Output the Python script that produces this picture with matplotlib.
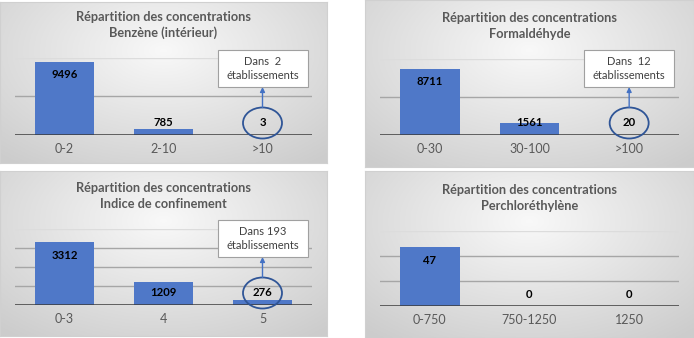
import numpy as np
import matplotlib
matplotlib.use('Agg')
import matplotlib.pyplot as plt
from matplotlib.patches import Ellipse, Rectangle
from matplotlib.transforms import ScaledTranslation

plt.rcParams['font.family'] = ['Lato', 'DejaVu Sans']

# Data
titles = ['Répartition des concentrations\nBenzène (intérieur)',
          'Répartition des concentrations\nFormaldéhyde',
          'Répartition des concentrations\nIndice de confinement',
          'Répartition des concentrations\nPerchloréthylène']
cats_benzene = ['0-2', '2-10', '>10']
vals_benzene = [9496, 785, 3]
cats_formal = ['0-30', '30-100', '>100']
vals_formal = [8711, 1561, 20]
cats_confin = ['0-3', '4', '5']
vals_confin = [3312, 1209, 276]
cats_perchlo = ['0-750', '750-1250', '1250']
vals_perchlo = [47, 0, 0]
callouts = ['Dans  2\nétablissements', 'Dans  12\nétablissements',
            'Dans 193\nétablissements', None]
axis_max = [10000, 10000, 4000, 60]
axis_step = [5000, 5000, 1000, 20]

W, H, DPI = 694, 338, 100
fig = plt.figure(figsize=(W / DPI, H / DPI), dpi=DPI)
fig.patch.set_facecolor('white')


def rect(x0, y0, x1, y1):
    return [x0 / W, 1 - y1 / H, (x1 - x0) / W, (y1 - y0) / H]


# panel layout in pixels: background box, plot box, title centre y
layout = [
    ((0, 2, 327, 163), (15, 58, 312, 135), 25),
    ((365, 0, 694, 167), (380, 59, 679, 135), 26),
    ((0, 171, 327, 336), (15, 229, 312, 305), 196),
    ((365, 171, 694, 338), (380, 231, 679, 306), 198),
]
all_cats = [cats_benzene, cats_formal, cats_confin, cats_perchlo]
all_vals = [vals_benzene, vals_formal, vals_confin, vals_perchlo]

# radial gradient for backgrounds
gx, gy = np.meshgrid(np.linspace(0, 1, 200), np.linspace(0, 1, 100))
r = np.sqrt(((gx - 0.5) / 0.75) ** 2 + ((gy - 0.3) / 0.9) ** 2)
r = np.clip(r, 0, 1)
light, dark = np.array([0.975, 0.975, 0.975]), np.array([0.80, 0.80, 0.80])
grad = light[None, None, :] * (1 - r[..., None]) + dark[None, None, :] * r[..., None]

for k in range(4):
    bg, pb, ty = layout[k]
    axb = fig.add_axes(rect(*bg))
    axb.imshow(grad, aspect='auto', extent=[0, 1, 1, 0])
    axb.set_xticks([])
    axb.set_yticks([])
    for s in axb.spines.values():
        s.set_color('#d0d0d0')
        s.set_linewidth(0.8)

    ax = fig.add_axes(rect(*pb))
    ax.set_facecolor('none')
    cats, vals = all_cats[k], all_vals[k]
    x = np.arange(len(cats))
    ymax, step = axis_max[k], axis_step[k]
    for g in np.arange(step, ymax + step / 2, step):
        top = g >= ymax
        ax.axhline(g, color='#dcdcdc' if top else '#a6a6a6', lw=1.0, zorder=1)
    ax.bar(x, vals, width=0.6, color='#4f78c8', zorder=2)
    ax.axhline(0, color='#3a3a3a', lw=1.8, zorder=3)
    ax.set_xlim(-0.5, len(cats) - 0.5)
    ax.set_ylim(0, ymax)
    ax.set_yticks([])
    ax.set_xticks(x)
    ax.set_xticklabels(cats, color='#595959', fontsize=9)
    ax.tick_params(axis='x', length=0, pad=6)
    for s in ax.spines.values():
        s.set_visible(False)

    plot_h = pb[3] - pb[1]
    for i, v in enumerate(vals):
        h_px = v / ymax * plot_h
        dy = max(-13, 12 - h_px)
        base = fig.dpi_scale_trans + ScaledTranslation(i, v, ax.transData)
        ax.text(0, dy / DPI, str(v), transform=base, ha='center', va='center',
                fontsize=8.2, fontweight='bold', color='black', zorder=5, clip_on=False)
        if i == len(vals) - 1 and callouts[k]:
            ax.add_patch(Ellipse((0, dy / DPI), 39 / DPI, 31 / DPI, transform=base,
                                 fill=False, ec='#2f5597', lw=1.3, zorder=5, clip_on=False))
            ax.annotate('', xy=(0, (dy + 36) / DPI), xytext=(0, (dy + 15.5) / DPI),
                        xycoords=base, textcoords=base,
                        arrowprops=dict(arrowstyle='-|>', color='#4472c4', lw=1.0,
                                        mutation_scale=7, shrinkA=0, shrinkB=0),
                        zorder=5, annotation_clip=False)
            ax.add_patch(Rectangle((-45 / DPI, (dy + 36) / DPI), 90 / DPI, 37 / DPI,
                                   transform=base, fc='white', ec='#a0a0a0', lw=0.8,
                                   zorder=6, clip_on=False))
            ax.text(0, (dy + 54.5) / DPI, callouts[k], transform=base, ha='center',
                    va='center', fontsize=8, color='#404040', linespacing=1.3,
                    zorder=7, clip_on=False)

    cx = (pb[0] + pb[2]) / 2
    fig.text(cx / W, 1 - ty / H, titles[k], ha='center', va='center', fontsize=9.2,
             fontweight='bold', color='#595959', linespacing=1.4)

fig.savefig('out.png', dpi=DPI)
